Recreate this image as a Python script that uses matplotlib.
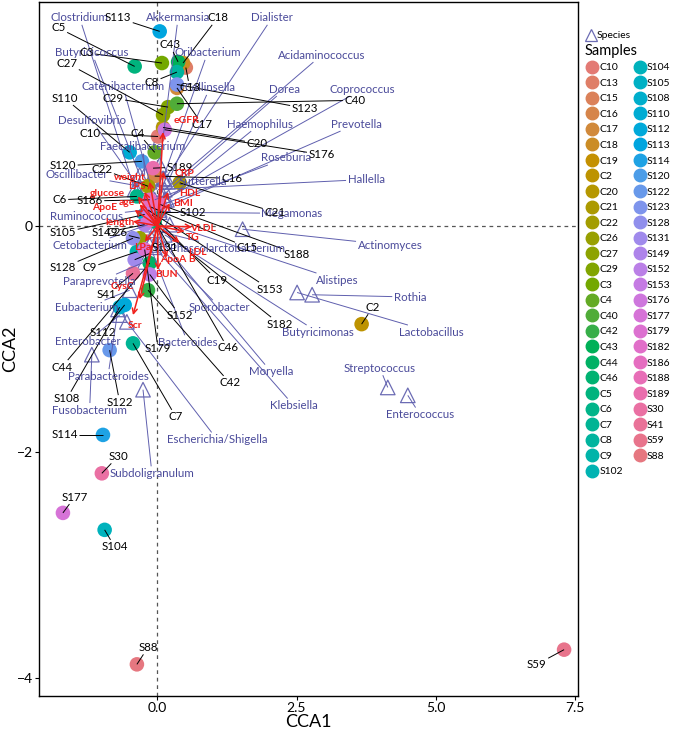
import numpy as np
import matplotlib
matplotlib.use("Agg")
import matplotlib.pyplot as plt
from matplotlib.lines import Line2D

plt.rcParams['font.family'] = ['Lato', 'DejaVu Sans']

# ---------------- data ----------------
sample_ids = ['C10','C13','C15','C16','C17','C18','C19','C2','C20','C21','C22','C26','C27','C29','C3','C4',
              'C40','C42','C43','C44','C46','C5','C6','C7','C8','C9','S102','S104','S105','S108','S110','S112',
              'S113','S114','S120','S122','S123','S128','S131','S149','S152','S153','S176','S177','S179','S182',
              'S186','S188','S189','S30','S41','S59','S88']
sample_cca1 = [0.01,0.51,-0.14,-0.05,0.35,0.46,-0.10,3.67,0.10,0.40,-0.17,-0.32,0.10,0.19,0.08,-0.05,
               0.35,-0.17,0.37,-0.14,-0.05,-0.41,-0.37,-0.44,0.35,-0.37,-0.01,-0.95,-0.23,-0.68,-0.50,-0.59,
               0.04,-0.98,-0.28,-0.86,0.35,-0.44,-0.41,-0.23,-0.14,-0.17,0.13,-1.70,-0.23,-0.14,
               -0.14,0.04,-0.08,-1.00,-0.44,7.31,-0.37]
sample_cca2 = [0.79,1.40,0.17,0.44,1.22,1.44,0.10,-0.87,0.87,0.38,0.35,-0.11,0.98,1.05,1.44,0.65,
               1.08,-0.57,1.45,-0.33,0.04,1.41,0.26,-1.04,1.36,-0.23,0.12,-2.69,0.10,-0.72,0.65,-0.70,
               1.72,-1.85,0.57,-1.10,1.25,-0.11,-0.30,0.01,-0.43,0.14,0.85,-2.54,-0.21,0.05,
               0.23,0.19,0.51,-2.19,-0.42,-3.75,-3.88]

species_names = ['Clostridium','Akkermansia','Dialister','Butyricicoccus','Oribacterium','Acidaminococcus',
                 'Catenibacterium','Collinsella','Dorea','Coprococcus','Desulfovibrio','Haemophilus',
                 'Prevotella','Faecalibacterium','Roseburia','Oscillibacter','Sutterella','Hallella',
                 'Megamonas','Ruminococcus','Actinomyces','Cetobacterium','Phascolarctobacterium','Alistipes',
                 'Rothia','Lactobacillus','Butyricimonas','Paraprevotella','Eubacterium','Sporobacter',
                 'Bacteroides','Moryella','Klebsiella','Enterobacter','Escherichia/Shigella','Parabacteroides',
                 'Fusobacterium','Streptococcus','Enterococcus','Subdoligranulum']
species_cca1 = [-0.41,0.04,0.13,-0.32,0.10,0.13,-0.14,0.19,0.10,0.13,-0.26,0.17,0.04,-0.23,0.10,-0.32,
                -0.05,0.01,0.04,-0.23,1.53,-0.17,-0.05,0.22,2.78,2.51,0.13,-0.23,-0.50,-0.10,-0.14,0.04,
                -0.05,-0.68,-0.55,-0.71,-1.18,4.14,4.50,-0.26]
species_cca2 = [0.32,0.54,0.41,0.45,0.42,0.32,0.39,0.39,0.27,0.23,0.29,0.23,0.14,0.45,0.19,0.35,
                0.23,0.32,0.12,0.14,-0.03,0.01,-0.04,0.01,-0.61,-0.59,-0.08,-0.32,-0.57,-0.12,-0.17,-0.12,
                -0.19,-0.79,-0.85,-0.74,-1.14,-1.43,-1.50,-1.45]

env_names = ['eGFR','CRP','HDL','BMI','weight','LPS','glucose','age','ApoE','length','VLDL','TG','LDL',
             'ApoA B','BUN','LPa','CysC','Scr']
env_cca1 = [0.10,0.11,0.19,0.22,-0.14,-0.23,-0.35,-0.32,-0.41,-0.44,0.62,0.49,0.40,0.17,0.01,-0.23,-0.32,-0.44]
env_cca2 = [0.83,0.48,0.30,0.20,0.39,0.30,0.26,0.19,0.14,0.04,-0.01,-0.05,-0.15,-0.28,-0.39,-0.14,-0.65,-0.79]

# ---------------- label layout (repelled label positions) ----------------
sample_label_pos = [(-1.22,0.82),(0.58,1.22),(1.61,-0.19),(1.34,0.42),(0.80,0.90),(1.08,1.84),(1.07,-0.48),
                    (3.87,-0.72),(1.79,0.73),(2.11,0.12),(-1.00,0.50),(-0.73,-0.06),(-1.63,1.44),(-0.80,1.13),
                    (-1.27,1.53),(-0.35,0.82),(3.55,1.11),(1.30,-1.39),(0.22,1.60),(-1.72,-1.25),(1.26,-1.08),
                    (-1.78,1.75),(-1.76,0.23),(0.33,-1.69),(-0.10,1.27),(-1.22,-0.37),(0.63,0.12),(-0.77,-2.84),
                    (-1.70,-0.06),(-1.63,-1.53),(-1.67,1.13),(-0.98,-0.94),(-0.71,1.84),(-1.67,-1.85),
                    (-1.70,0.53),(-0.68,-1.56),(2.65,1.04),(-1.70,-0.37),(0.13,-0.19),(-0.95,-0.06),
                    (0.40,-0.79),(2.02,-0.56),(2.95,0.63),(-1.49,-2.40),(0.01,-1.09),(2.20,-0.87),
                    (-1.22,0.22),(2.51,-0.25),(0.40,0.52),(-0.71,-2.04),(-0.91,-0.61),(6.82,-3.88),(-0.17,-3.73)]
species_label_pos = [(-1.40,1.84),(0.37,1.84),(2.06,1.84),(-1.18,1.53),(0.90,1.53),(2.95,1.51),(-0.62,1.23),
                     (0.94,1.22),(2.29,1.21),(3.69,1.21),(-1.18,0.93),(1.84,0.90),(3.58,0.90),(-0.26,0.70),
                     (2.32,0.60),(-1.45,0.45),(0.81,0.39),(3.75,0.41),(2.42,0.11),(-1.27,0.08),(4.18,-0.17),
                     (-1.22,-0.17),(1.25,-0.20),(3.24,-0.48),(4.54,-0.63),(4.93,-0.94),(2.88,-0.94),
                     (-1.04,-0.49),(-1.27,-0.72),(1.12,-0.72),(0.54,-1.03),(2.04,-1.29),(2.45,-1.59),
                     (-1.25,-1.02),(1.07,-1.89),(-0.89,-1.33),(-1.22,-1.63),(4.00,-1.26),(4.72,-1.67),
                     (-0.10,-2.19)]
env_label_pos = [(0.53,0.93),(0.49,0.46),(0.58,0.29),(0.46,0.20),(-0.50,0.43),(-0.37,0.35),(-0.91,0.29),
                 (-0.55,0.21),(-0.95,0.16),(-0.68,0.03),(0.81,-0.02),(0.63,-0.10),(0.71,-0.24),(0.37,-0.30),
                 (0.17,-0.43),(-0.26,-0.19),(-0.64,-0.54),(-0.41,-0.88)]


# ---------------- hue palette (ggplot-like, slightly muted as in print) ----------------
def hue_pal(n, l=63.0, c=78.0):
    h = np.linspace(15, 375, n + 1)[:-1]
    hr = np.deg2rad(h)
    u = c * np.cos(hr)
    v = c * np.sin(hr)
    Xn, Yn, Zn = 95.047, 100.0, 108.883
    Y = Yn * ((l + 16) / 116) ** 3
    un = 4 * Xn / (Xn + 15 * Yn + 3 * Zn)
    vn = 9 * Yn / (Xn + 15 * Yn + 3 * Zn)
    up = u / (13 * l) + un
    vp = v / (13 * l) + vn
    X = Y * 9 * up / (4 * vp)
    Z = Y * (12 - 3 * up - 20 * vp) / (4 * vp)
    xyz = np.vstack([X, np.full_like(X, Y), Z]) / 100.0
    M = np.array([[3.2404542, -1.5371385, -0.4985314],
                  [-0.9692660, 1.8760108, 0.0415560],
                  [0.0556434, -0.2040259, 1.0572252]])
    rgb = M @ xyz
    rgb = np.where(rgb <= 0.0031308, 12.92 * rgb, 1.055 * np.clip(rgb, 0, None) ** (1 / 2.4) - 0.055)
    return [tuple(np.clip(col, 0, 1)) for col in rgb.T]


colors = hue_pal(len(sample_ids))

SP_TEXT = '#4a4a9a'
SP_LINE = '#5f5fae'
SP_TRI = '#6c6cb4'
ENV_RED = '#f0201c'

fig = plt.figure(figsize=(6.75, 7.3), dpi=100)
ax = fig.add_axes([39 / 675, 34 / 730, (578 - 39) / 675, (728 - 34) / 730])
ax.set_xlim(-2.13, 7.56)
ax.set_ylim(-4.16, 1.98)

ax.axhline(0, color='#555555', ls=(0, (3, 3)), lw=0.9, zorder=1)
ax.axvline(0, color='#555555', ls=(0, (3, 3)), lw=0.9, zorder=1)

# species triangles
ax.scatter(species_cca1, species_cca2, marker='^', s=110, facecolors='none',
           edgecolors=SP_TRI, linewidths=0.9, zorder=2)
# sample points
ax.scatter(sample_cca1, sample_cca2, s=110, c=colors, edgecolors='none', zorder=3)

# arrows
for name, x, y, (lx, ly) in zip(env_names, env_cca1, env_cca2, env_label_pos):
    ax.annotate('', xy=(x, y), xytext=(0, 0),
                arrowprops=dict(arrowstyle='->', color=ENV_RED, lw=1.1, mutation_scale=9,
                                shrinkA=0, shrinkB=0), zorder=6)
    ax.text(lx, ly, name, color=ENV_RED, fontsize=7.5, fontweight='bold',
            ha='center', va='center', zorder=8)

# texts
sp_texts = []
for name, (lx, ly) in zip(species_names, species_label_pos):
    sp_texts.append(ax.text(lx, ly, name, color=SP_TEXT, fontsize=8.3, ha='center', va='center', zorder=7))
sa_texts = []
for name, (lx, ly) in zip(sample_ids, sample_label_pos):
    sa_texts.append(ax.text(lx, ly, name, color='black', fontsize=8.3, ha='center', va='center', zorder=7))

# axes cosmetics
ax.set_xticks([0, 2.5, 5.0, 7.5])
ax.set_xticklabels(['0.0', '2.5', '5.0', '7.5'])
ax.set_yticks([-4, -2, 0])
ax.set_yticklabels(['\u22124', '\u22122', '0'])
ax.tick_params(axis='both', labelsize=10, length=3, width=0.8, colors='black', pad=1.5)
for sp in ax.spines.values():
    sp.set_linewidth(1.0)
    sp.set_color('black')
ax.set_xlabel('CCA1', fontsize=13, labelpad=0)
ax.set_ylabel('CCA2', fontsize=13, labelpad=-1)

# ---------------- leader segments clipped to label boxes ----------------
fig.canvas.draw()
renderer = fig.canvas.get_renderer()
inv = ax.transData.inverted()


def clip_point(p, bb, pad=1.5):
    x0, y0, x1, y1 = bb.x0 - pad, bb.y0 - pad, bb.x1 + pad, bb.y1 + pad
    if x0 <= p[0] <= x1 and y0 <= p[1] <= y1:
        return None
    c = np.array([(x0 + x1) / 2, (y0 + y1) / 2])
    d = c - p
    tx = ((x0 if d[0] > 0 else x1) - p[0]) / d[0] if d[0] != 0 else -np.inf
    ty = ((y0 if d[1] > 0 else y1) - p[1]) / d[1] if d[1] != 0 else -np.inf
    t = max(tx, ty)
    return p + t * d


def draw_leader(txt, px, py, color, lw, z):
    bb = txt.get_window_extent(renderer)
    p = ax.transData.transform((px, py))
    q = clip_point(p, bb)
    if q is None or np.hypot(*(q - p)) < 4:
        return
    a = inv.transform(p)
    b = inv.transform(q)
    ax.plot([a[0], b[0]], [a[1], b[1]], color=color, lw=lw, zorder=z, solid_capstyle='butt')


for t, x, y in zip(sp_texts, species_cca1, species_cca2):
    draw_leader(t, x, y, SP_LINE, 0.7, 4)
for t, x, y in zip(sa_texts, sample_cca1, sample_cca2):
    draw_leader(t, x, y, 'black', 0.7, 5)

# ---------------- legend ----------------
fig.add_artist(Line2D([591 / 675], [1 - 35 / 730], transform=fig.transFigure, marker='^', ms=9,
                      mfc='none', mec=SP_TRI, mew=0.9, ls=''))
fig.text(597 / 675, 1 - 36 / 730, 'Species', fontsize=7.5, va='center', ha='left')
fig.text(585 / 675, 1 - 51 / 730, 'Samples', fontsize=10.5, va='center', ha='left')

handles = [Line2D([], [], marker='o', ls='', ms=9, mfc=c, mec=c) for c in colors]
fig.legend(handles, sample_ids, ncol=2, loc='upper left', bbox_to_anchor=(586 / 675, 1 - 63 / 730),
           frameon=False, fontsize=7.5, handletextpad=0.1, columnspacing=1.0, labelspacing=0.6,
           borderpad=0, borderaxespad=0, handlelength=1.2)

fig.savefig('out.png', dpi=100)
